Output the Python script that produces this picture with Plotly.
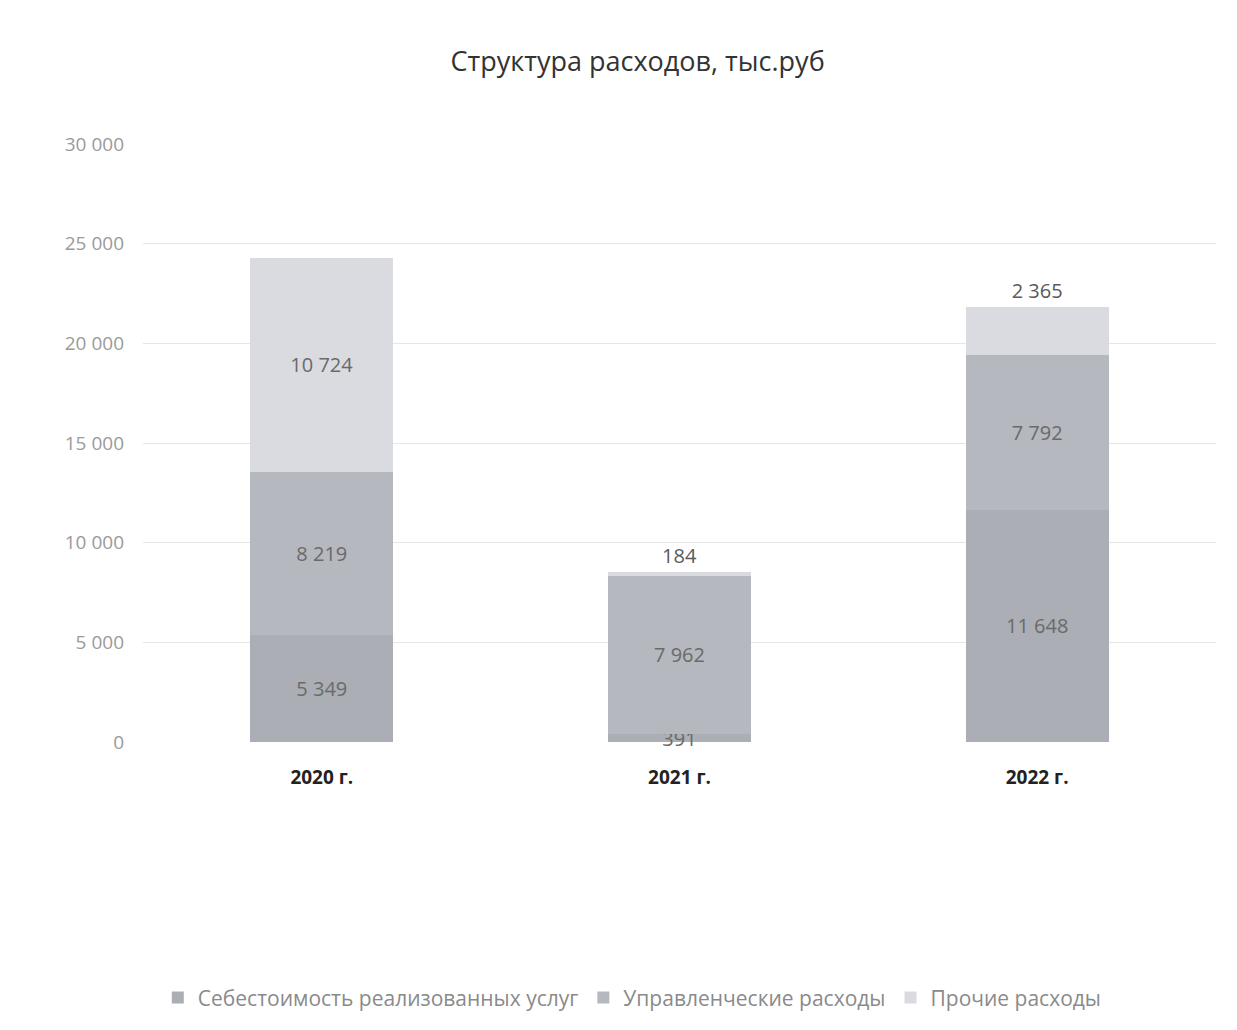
import plotly.graph_objects as go

categories = ["2020 г.", "2021 г.", "2022 г."]
series_names = ["Себестоимость реализованных услуг", "Управленческие расходы", "Прочие расходы"]
cost_of_services = [5349, 391, 11648]
admin_expenses = [8219, 7962, 7792]
other_expenses = [10724, 184, 2365]
y_ticks = [0, 5000, 10000, 15000, 20000, 25000, 30000]

colors = ["#abaeb4", "#b5b8be", "#d9dbe0"]
values = [cost_of_services, admin_expenses, other_expenses]
positions = [
    ["inside", "inside", "inside"],
    ["inside", "inside", "inside"],
    ["inside", "outside", "outside"],
]

FONT = "Open Sans, Liberation Sans, sans-serif"

fig = go.Figure()
for name, vals, col, pos in zip(series_names, values, colors, positions):
    fig.add_trace(go.Bar(
        x=categories, y=vals, name=name,
        marker=dict(color=col, line=dict(width=0)),
        text=vals, texttemplate="%{y:,}", textposition=pos,
        insidetextanchor="middle", constraintext="none",
        insidetextfont=dict(family=FONT, size=20, color="#6a6a6a"),
        outsidetextfont=dict(family=FONT, size=20, color="#5a5a5a"),
        cliponaxis=False,
    ))

fig.update_layout(
    barmode="stack",
    bargap=0.6,
    width=1237, height=1030,
    separators=", ",
    paper_bgcolor="white", plot_bgcolor="white",
    margin=dict(l=135, r=29, t=136, b=296),
    title=dict(text="Структура расходов, тыс.руб", x=0.509, xanchor="center",
               y=0.9476, yanchor="middle",
               font=dict(family=FONT, size=27, color="#333333")),
    font=dict(family=FONT),
    xaxis=dict(showline=False, ticks="", ticklabelstandoff=22,
               tickfont=dict(family=FONT, size=19, color="#222222", weight="bold")),
    yaxis=dict(range=[0, 30000], tickvals=y_ticks, tickformat=",", showgrid=True,
               gridcolor="#e6e6e6", zeroline=False, ticks="", ticklabelstandoff=18,
               tickfont=dict(family=FONT, size=19, color="#9a9a9a")),
    legend=dict(orientation="h", x=0.456, xanchor="center", y=-0.428, yanchor="middle",
                font=dict(family=FONT, size=21, color="#8a8a8a"), traceorder="normal",
                itemwidth=30),
    showlegend=True,
)

fig.write_html("out.html")
